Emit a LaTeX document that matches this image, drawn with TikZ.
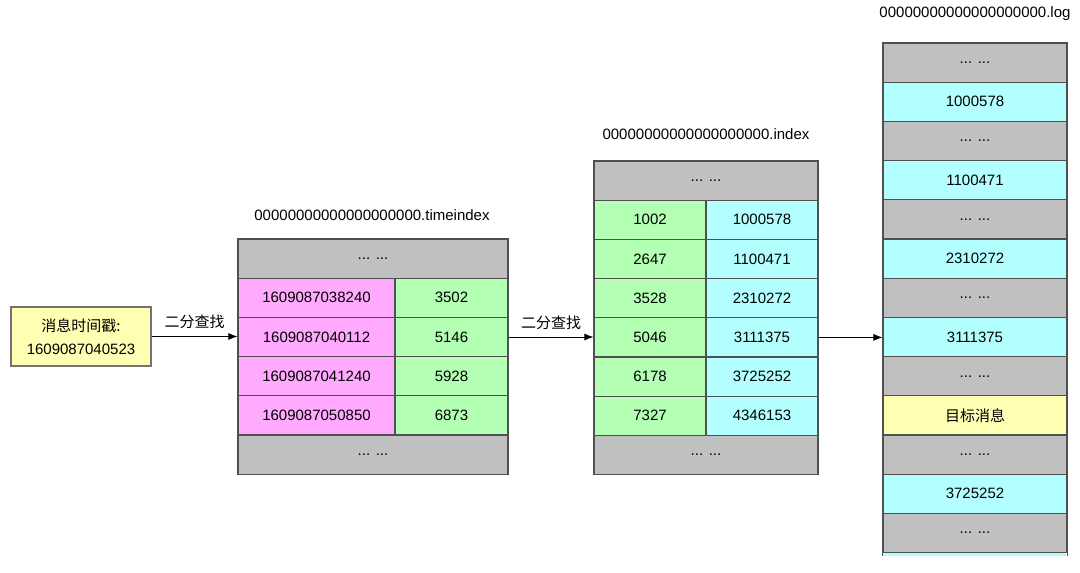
\documentclass[tikz,border=0pt]{standalone}
\usepackage{fontspec}
\setmainfont{Liberation Sans}
\newfontfamily\cjk{Noto Sans CJK SC}
\usepackage{xcolor}
\definecolor{grau}{RGB}{192,192,192}
\definecolor{rosa}{RGB}{255,170,255}
\definecolor{gruen}{RGB}{179,255,179}
\definecolor{tuerkis}{RGB}{179,255,255}
\definecolor{gelb}{RGB}{255,255,179}
\definecolor{rand}{RGB}{80,80,80}
\usepackage{tikz}
\usetikzlibrary{arrows,arrows.meta,positioning}

\tikzset{
    zelle/.style={draw=rand, line width=1.1pt, inner sep=0pt, minimum height=39.2pt, font=\fontsize{15}{18}\selectfont},
    leer/.style={zelle, fill=grau},
    pfeil/.style={-{Latex[length=9pt,width=7pt]}, line width=0.9pt, black},
    titel/.style={font=\fontsize{15}{18}\selectfont}
}

\begin{document}
\begin{tikzpicture}[x=1pt,y=-1pt]
        \useasboundingbox (0,0) rectangle (1080,573);                                       % Rahmen
        \node[zelle, fill=gelb, draw=rand!80, minimum width=140pt, minimum height=59pt, align=center, font=\fontsize{15}{23}\selectfont] (ts) at (81,336.5) {{\cjk 消息时间戳:}\\1609087040523}; % Zeitstempel
        % timeindex
        \node[titel] (tiname) at (372,215) {00000000000000000000.timeindex};                % Dateiname
        \node[leer, minimum width=270pt] (ti0) at (373,258.6) {... ...};                    % oben
        \node[zelle, fill=rosa, minimum width=157pt] (ti1a) at (316.5,297.8) {1609087038240};
        \node[zelle, fill=gruen, minimum width=113pt] (ti1b) at (451.5,297.8) {3502};
        \node[zelle, fill=rosa, minimum width=157pt] (ti2a) at (316.5,337) {1609087040112};
        \node[zelle, fill=gruen, minimum width=113pt] (ti2b) at (451.5,337) {5146};
        \node[zelle, fill=rosa, minimum width=157pt] (ti3a) at (316.5,376.2) {1609087041240};
        \node[zelle, fill=gruen, minimum width=113pt] (ti3b) at (451.5,376.2) {5928};
        \node[zelle, fill=rosa, minimum width=157pt] (ti4a) at (316.5,415.4) {1609087050850};
        \node[zelle, fill=gruen, minimum width=113pt] (ti4b) at (451.5,415.4) {6873};
        \node[leer, minimum width=270pt] (ti5) at (373,454.6) {... ...};                    % unten
        % index
        \node[titel] (ixname) at (706,134) {00000000000000000000.index};                    % Dateiname
        \node[leer, minimum width=224pt] (ix0) at (706,180.6) {... ...};                    % oben
        \node[zelle, fill=gruen, minimum width=112pt] (ix1a) at (650,219.8) {1002};
        \node[zelle, fill=tuerkis, minimum width=112pt] (ix1b) at (762,219.8) {1000578};
        \node[zelle, fill=gruen, minimum width=112pt] (ix2a) at (650,259) {2647};
        \node[zelle, fill=tuerkis, minimum width=112pt] (ix2b) at (762,259) {1100471};
        \node[zelle, fill=gruen, minimum width=112pt] (ix3a) at (650,298.2) {3528};
        \node[zelle, fill=tuerkis, minimum width=112pt] (ix3b) at (762,298.2) {2310272};
        \node[zelle, fill=gruen, minimum width=112pt] (ix4a) at (650,337.4) {5046};
        \node[zelle, fill=tuerkis, minimum width=112pt] (ix4b) at (762,337.4) {3111375};
        \node[zelle, fill=gruen, minimum width=112pt] (ix5a) at (650,376.6) {6178};
        \node[zelle, fill=tuerkis, minimum width=112pt] (ix5b) at (762,376.6) {3725252};
        \node[zelle, fill=gruen, minimum width=112pt] (ix6a) at (650,415.8) {7327};
        \node[zelle, fill=tuerkis, minimum width=112pt] (ix6b) at (762,415.8) {4346153};
        \node[leer, minimum width=224pt] (ix7) at (706,455) {... ...};                      % unten
        % log
        \node[titel] (lgname) at (975,14) {00000000000000000000.log};                       % Dateiname
        \node[leer, minimum width=184pt] (lg0) at (975,62.6) {... ...};
        \node[zelle, fill=tuerkis, minimum width=184pt] (lg1) at (975,101.8) {1000578};
        \node[leer, minimum width=184pt] (lg2) at (975,141) {... ...};
        \node[zelle, fill=tuerkis, minimum width=184pt] (lg3) at (975,180.2) {1100471};
        \node[leer, minimum width=184pt] (lg4) at (975,219.4) {... ...};
        \node[zelle, fill=tuerkis, minimum width=184pt] (lg5) at (975,258.6) {2310272};
        \node[leer, minimum width=184pt] (lg6) at (975,297.8) {... ...};
        \node[zelle, fill=tuerkis, minimum width=184pt] (lg7) at (975,337) {3111375};
        \node[leer, minimum width=184pt] (lg8) at (975,376.2) {... ...};
        \node[zelle, fill=gelb, minimum width=184pt] (lg9) at (975,415.4) {\cjk 目标消息};   % Ziel
        \node[leer, minimum width=184pt] (lg10) at (975,454.6) {... ...};
        \node[zelle, fill=tuerkis, minimum width=184pt] (lg11) at (975,493.8) {3725252};
        \node[leer, minimum width=184pt] (lg12) at (975,533) {... ...};
        \fill[tuerkis] (lg12.south west) rectangle ++(184,2.6);                              % angeschnittene Zeile
        \draw[rand, line width=1.1pt] (lg12.south west) -- ++(0,2.6) (lg12.south east) -- ++(0,2.6);
        % Pfeile
        \draw[pfeil] (ts.east) -- (ts.east -| ti2a.west) node[midway, above=4pt, titel] {\cjk 二分查找};   % Suche 1
        \draw[pfeil] (ti2b.east) -- (ti2b.east -| ix4a.west) node[midway, above=3pt, titel] {\cjk 二分查找}; % Suche 2
        \draw[pfeil] (ix4b.east) -- (ix4b.east -| lg7.west);                                % zum Log
    \end{tikzpicture}
\end{document}
